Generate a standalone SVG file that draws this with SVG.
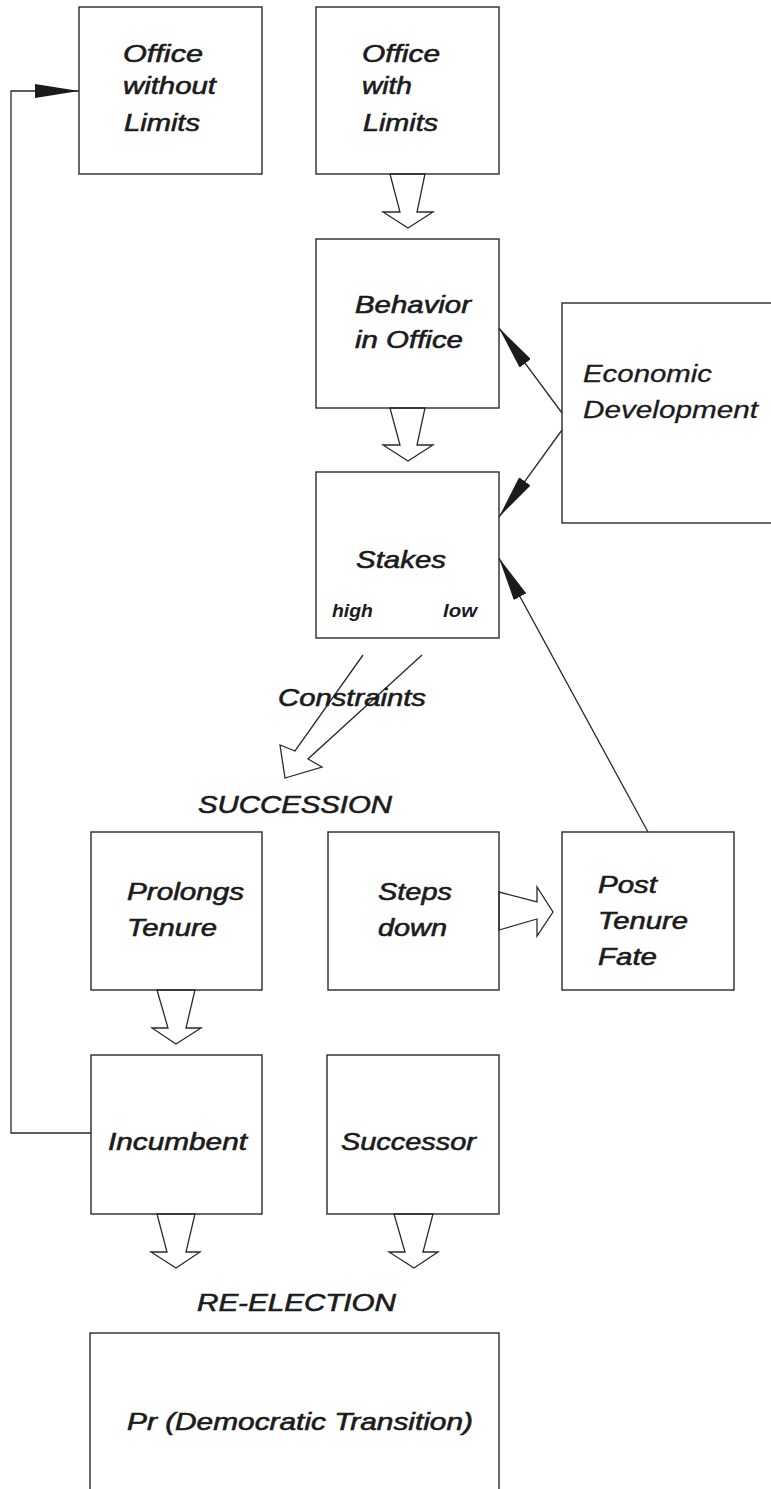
<svg xmlns="http://www.w3.org/2000/svg" width="771" height="1489" viewBox="0 0 771 1489">
<defs>
<style>
.box{fill:none;stroke:#2a2a2a;stroke-width:1.4}
.t{font-family:"Liberation Sans",Arial,sans-serif;font-style:italic;font-size:24px;fill:#1b1b1b;stroke:#1b1b1b;stroke-width:0.6}
.lt{stroke-width:0.3}
.s{font-family:"Liberation Sans",Arial,sans-serif;font-style:italic;font-weight:bold;font-size:18px;fill:#1b1b1b}
.hollow{fill:#fff;stroke:#2a2a2a;stroke-width:1.3;stroke-linejoin:miter}
.open{fill:none;stroke:#2a2a2a;stroke-width:1.3}
.conn{fill:none;stroke:#2a2a2a;stroke-width:1.3}
</style>
<marker id="head" viewBox="0 0 44 14" refX="44" refY="7" markerWidth="44" markerHeight="14" markerUnits="userSpaceOnUse" orient="auto">
<path d="M0,0 L44,7 L0,14 Z" fill="#1b1b1b"/>
</marker>
</defs>
<rect width="771" height="1489" fill="#fff"/>
<g id="connectors">
<polyline class="conn" points="91,1133 11,1133 11,91 79,91" marker-end="url(#head)"/>
<line class="conn" x1="562" y1="413" x2="499" y2="328" marker-end="url(#head)"/>
<line class="conn" x1="562" y1="430" x2="499" y2="517" marker-end="url(#head)"/>
<line class="conn" x1="648" y1="832" x2="499" y2="558" marker-end="url(#head)"/>
<polygon class="hollow" points="390,174 400,212 383,212 408,228 433,212 417,212 425,174"/>
<polygon class="hollow" points="390,408 400,445 383,445 408,461 433,445 417,445 425,408"/>
<polyline class="open" points="363,655 295,751 280,745 285,778 322,767 308,759 422,655"/>
<polygon class="hollow" points="499,892 537,902 537,887 553,912 537,936 537,919 499,930"/>
<polygon class="hollow" points="157,990 168,1028 152,1028 176,1044 201,1028 186,1028 195,990"/>
<polygon class="hollow" points="157,1214 167,1252 151,1252 176,1268 200,1252 186,1252 195,1214"/>
<polygon class="hollow" points="394,1214 405,1252 389,1252 414,1268 438,1252 423,1252 433,1214"/>
</g>
<g id="office-without-limits">
<rect class="box" x="79" y="7" width="183" height="167"/>
<text class="t" x="123" y="62" textLength="80" lengthAdjust="spacingAndGlyphs">Office</text>
<text class="t" x="123" y="94" textLength="93" lengthAdjust="spacingAndGlyphs">without</text>
<text class="t" x="124" y="131" textLength="76" lengthAdjust="spacingAndGlyphs">Limits</text>
</g>
<g id="office-with-limits">
<rect class="box" x="316" y="7" width="183" height="167"/>
<text class="t" x="362" y="62" textLength="78" lengthAdjust="spacingAndGlyphs">Office</text>
<text class="t" x="362" y="94" textLength="50" lengthAdjust="spacingAndGlyphs">with</text>
<text class="t" x="363" y="131" textLength="75" lengthAdjust="spacingAndGlyphs">Limits</text>
</g>
<g id="behavior">
<rect class="box" x="316" y="239" width="183" height="169"/>
<text class="t" x="355" y="313" textLength="116" lengthAdjust="spacingAndGlyphs">Behavior</text>
<text class="t" x="355" y="348" textLength="108" lengthAdjust="spacingAndGlyphs">in Office</text>
</g>
<g id="economic-development">
<rect class="box" x="562" y="303" width="220" height="220"/>
<text class="t lt" x="583" y="382" textLength="129" lengthAdjust="spacingAndGlyphs">Economic</text>
<text class="t lt" x="583" y="418" textLength="175" lengthAdjust="spacingAndGlyphs">Development</text>
</g>
<g id="stakes">
<rect class="box" x="316" y="472" width="183" height="166"/>
<text class="t" x="356" y="568" textLength="90" lengthAdjust="spacingAndGlyphs">Stakes</text>
<text class="s" x="332" y="617" textLength="41" lengthAdjust="spacingAndGlyphs">high</text>
<text class="s" x="443" y="617" textLength="34" lengthAdjust="spacingAndGlyphs">low</text>
</g>
<g id="labels">
<text class="t" x="278" y="706" textLength="148" lengthAdjust="spacingAndGlyphs">Constraints</text>
<text class="t" x="198" y="813" textLength="194" lengthAdjust="spacingAndGlyphs">SUCCESSION</text>
<text class="t" x="197" y="1311" textLength="199" lengthAdjust="spacingAndGlyphs">RE-ELECTION</text>
</g>
<g id="prolongs-tenure">
<rect class="box" x="91" y="832" width="171" height="158"/>
<text class="t" x="127" y="900" textLength="117" lengthAdjust="spacingAndGlyphs">Prolongs</text>
<text class="t" x="127" y="936" textLength="90" lengthAdjust="spacingAndGlyphs">Tenure</text>
</g>
<g id="steps-down">
<rect class="box" x="328" y="832" width="171" height="158"/>
<text class="t" x="378" y="900" textLength="74" lengthAdjust="spacingAndGlyphs">Steps</text>
<text class="t" x="378" y="936" textLength="69" lengthAdjust="spacingAndGlyphs">down</text>
</g>
<g id="post-tenure-fate">
<rect class="box" x="562" y="832" width="172" height="158"/>
<text class="t" x="598" y="893" textLength="59" lengthAdjust="spacingAndGlyphs">Post</text>
<text class="t" x="598" y="929" textLength="90" lengthAdjust="spacingAndGlyphs">Tenure</text>
<text class="t" x="598" y="965" textLength="59" lengthAdjust="spacingAndGlyphs">Fate</text>
</g>
<g id="incumbent">
<rect class="box" x="91" y="1055" width="171" height="159"/>
<text class="t" x="108" y="1150" textLength="139" lengthAdjust="spacingAndGlyphs">Incumbent</text>
</g>
<g id="successor">
<rect class="box" x="327" y="1055" width="172" height="159"/>
<text class="t" x="341" y="1150" textLength="135" lengthAdjust="spacingAndGlyphs">Successor</text>
</g>
<g id="democratic-transition">
<rect class="box" x="90" y="1333" width="409" height="170"/>
<text class="t" x="127" y="1430" textLength="346" lengthAdjust="spacingAndGlyphs">Pr (Democratic Transition)</text>
</g>
</svg>
